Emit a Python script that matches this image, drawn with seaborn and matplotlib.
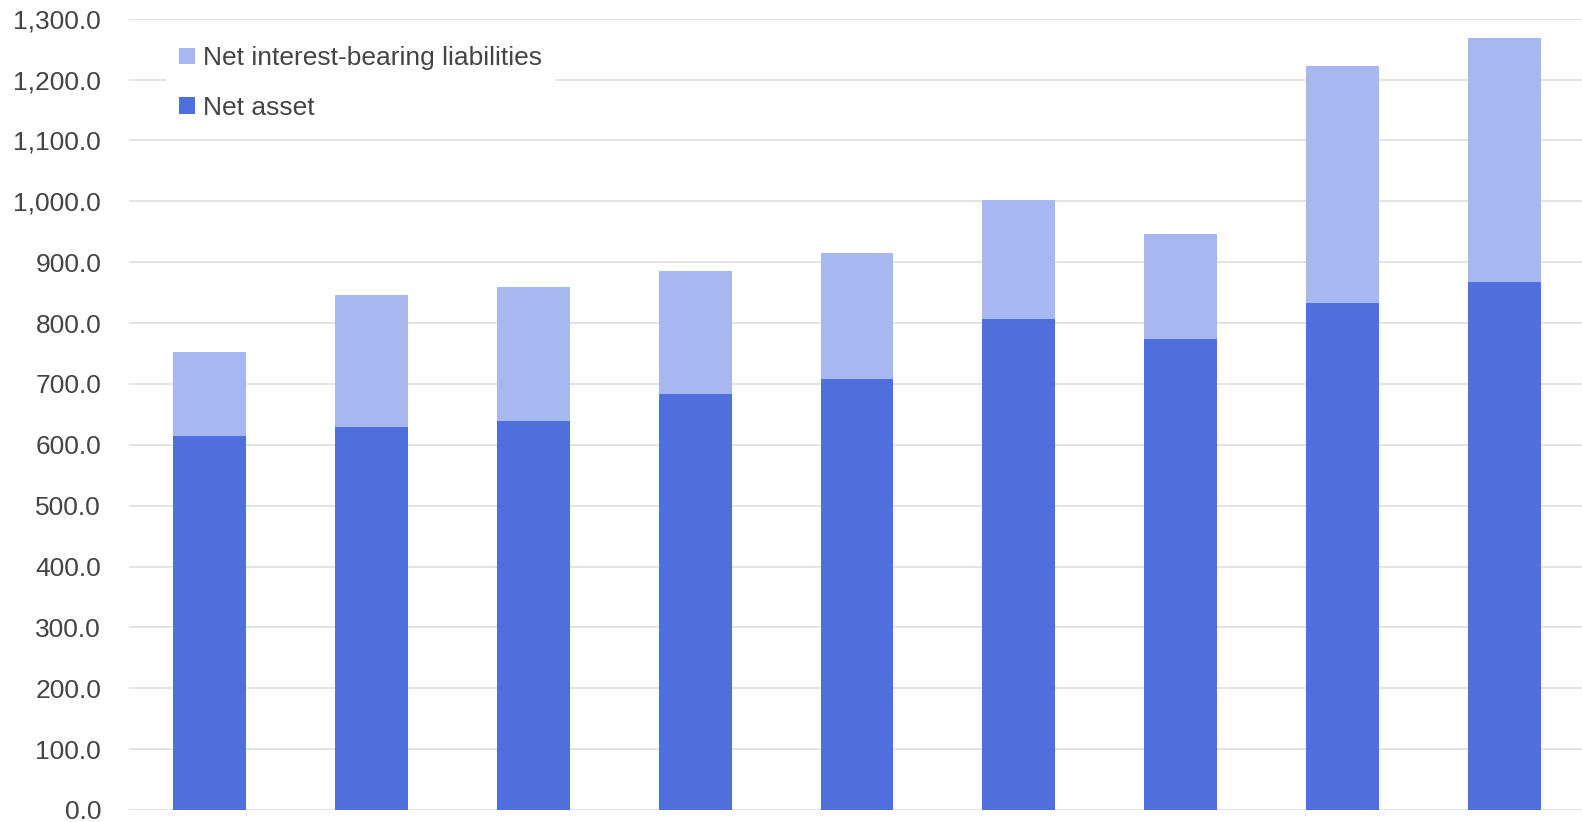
import numpy as np
import pandas as pd
import matplotlib
matplotlib.use("Agg")
import matplotlib.pyplot as plt
import seaborn as sns
from matplotlib.patches import Patch
from matplotlib.ticker import FuncFormatter

# values (9 periods, no x labels shown)
periods = ["P1", "P2", "P3", "P4", "P5", "P6", "P7", "P8", "P9"]
net_asset = [615, 630, 639, 684, 708, 806, 773, 833, 868]
net_liabilities = [137, 216, 220, 202, 207, 196, 174, 390, 401]

dark_blue = "#4F6FDC"
light_blue = "#A7B7EF"
grid_grey = "#E2E2E2"
text_grey = "#444444"

df = pd.DataFrame({"period": periods, "net_asset": net_asset, "liab": net_liabilities})
df["total"] = df["net_asset"] + df["liab"]

sns.set_theme(style="white")
plt.rcParams["font.family"] = ["Liberation Sans", "DejaVu Sans"]

fig = plt.figure(figsize=(15.82, 8.22), dpi=100)
ax = fig.add_axes([0.0815, 0.0146, 0.9205, 0.9627])

# stacked: draw totals (light) then net asset (dark) on top
sns.barplot(data=df, x="period", y="total", color=light_blue, width=0.45,
            saturation=1, edgecolor="none", linewidth=0, ax=ax, zorder=2)
sns.barplot(data=df, x="period", y="net_asset", color=dark_blue, width=0.45,
            saturation=1, edgecolor="none", linewidth=0, ax=ax, zorder=3)

ax.set_ylim(0, 1300)
ax.set_yticks(np.arange(0, 1301, 100))
ax.yaxis.set_major_formatter(FuncFormatter(lambda v, _: f"{v:,.1f}"))
ax.set_xlim(-0.5, len(periods) - 0.5)
ax.set_xticks([])
ax.set_xlabel("")
ax.set_ylabel("")
ax.grid(axis="y", color=grid_grey, linewidth=1.3, zorder=0)
ax.set_axisbelow(True)
ax.tick_params(axis="y", length=0, pad=20, labelsize=19, labelcolor=text_grey)
for s in ax.spines.values():
    s.set_visible(False)

handles = [Patch(facecolor=light_blue, edgecolor="none", label="Net interest-bearing liabilities"),
           Patch(facecolor=dark_blue, edgecolor="none", label="Net asset")]
leg = fig.legend(handles=handles, loc="upper left", bbox_to_anchor=(166 / 1582, 1 - 33 / 822),
                 frameon=True, fontsize=19, handlelength=0.6, handleheight=0.6,
                 handletextpad=0.3, labelspacing=0.96, borderpad=0.5, borderaxespad=0)
leg.get_frame().set_facecolor("white")
leg.get_frame().set_edgecolor("none")
leg.get_frame().set_alpha(1)
leg.get_frame().set_boxstyle("square", pad=0)
for t in leg.get_texts():
    t.set_color(text_grey)

fig.savefig("out.png", dpi=100)
